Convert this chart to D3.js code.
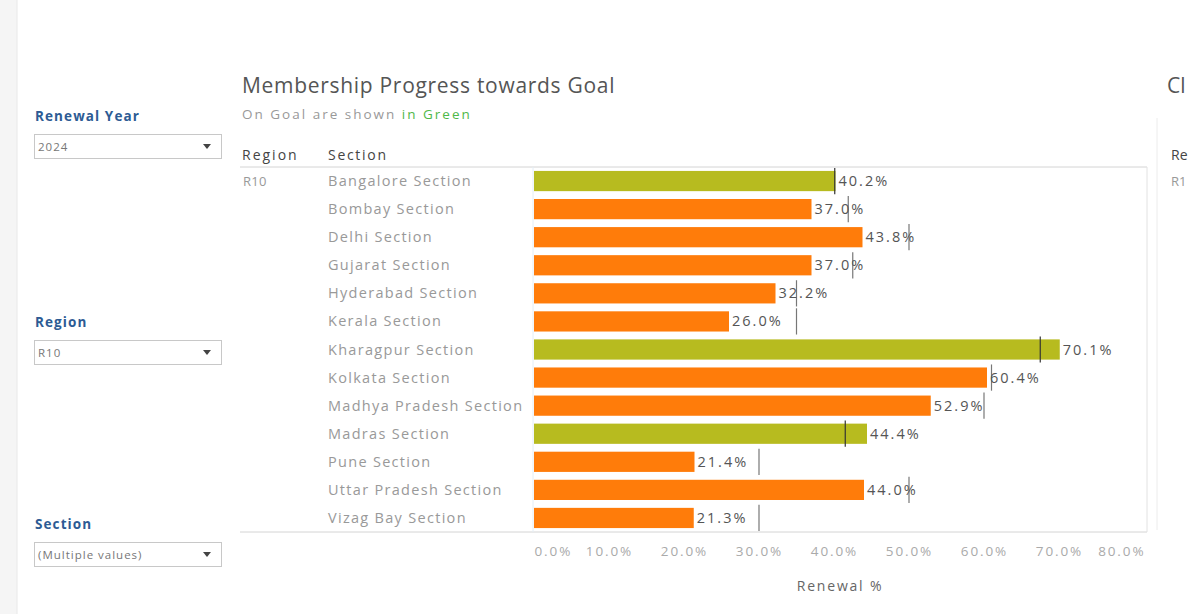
<!DOCTYPE html>
<html lang="en">
<head>
  <meta charset="UTF-8">
  <title>Membership Progress towards Goal</title>
  <script src="https://d3js.org/d3.v7.min.js"></script>
  <style>
    body { margin: 0; background: #fff; font-family: "Open Sans", sans-serif; }
  </style>
</head>
<body>
  <div id="viz"></div>

  <script>
    // Data
    const sections = ["Bangalore Section", "Bombay Section", "Delhi Section", "Gujarat Section",
      "Hyderabad Section", "Kerala Section", "Kharagpur Section", "Kolkata Section",
      "Madhya Pradesh Section", "Madras Section", "Pune Section", "Uttar Pradesh Section",
      "Vizag Bay Section"];
    const renewal = [40.2, 37.0, 43.8, 37.0, 32.2, 26.0, 70.1, 60.4, 52.9, 44.4, 21.4, 44.0, 21.3];
    const goal = [40.1, 41.9, 50.0, 42.5, 35.0, 35.0, 67.5, 61.0, 60.0, 41.5, 30.0, 50.0, 30.0];
    const xTicks = [0, 10, 20, 30, 40, 50, 60, 70, 80];
    const region = "R10";

    const W = 1193, H = 614;
    const svg = d3.select('#viz').append('svg')
      .attr('width', W).attr('height', H);

    // plot area
    const x0 = 534, x1 = 1134, plotTop = 167, plotBottom = 532;
    const x = d3.scaleLinear().domain([0, 80]).range([x0, x1]);
    const y = d3.scaleBand().domain(sections).range([plotTop, plotBottom]).paddingInner(0.28).paddingOuter(0.14);

    // left page strip
    svg.append('rect').attr('x', 0).attr('y', 0).attr('width', 17).attr('height', H).attr('fill', '#f5f5f5');
    svg.append('line').attr('x1', 17).attr('x2', 17).attr('y1', 0).attr('y2', H).attr('stroke', '#e8e8e8');

    // filter panels
    const filters = [
      { title: "Renewal Year", value: "2024", y: 116 },
      { title: "Region", value: "R10", y: 322 },
      { title: "Section", value: "(Multiple values)", y: 524 }
    ];
    filters.forEach(f => {
      svg.append('text').attr('x', 35).attr('y', f.y + 5)
        .attr('font-size', 13.5).attr('font-weight', 'bold').attr('fill', '#2d5b94')
        .attr('letter-spacing', 1.1).text(f.title);
      svg.append('rect').attr('x', 34.5).attr('y', f.y + 18.5).attr('width', 187).attr('height', 24)
        .attr('fill', '#fff').attr('stroke', '#c8c8c8');
      svg.append('text').attr('x', 38).attr('y', f.y + 35)
        .attr('font-size', 11.5).attr('fill', '#777').attr('letter-spacing', 1).text(f.value);
      svg.append('path')
        .attr('d', `M${203},${f.y + 28} l8,0 l-4,5 z`).attr('fill', '#444');
    });

    // title
    svg.append('text').attr('x', 242).attr('y', 93)
      .attr('font-size', 21).attr('fill', '#555').attr('letter-spacing', 0.7)
      .text("Membership Progress towards Goal");
    const sub = svg.append('text').attr('x', 242).attr('y', 119)
      .attr('font-size', 13.5).attr('fill', '#999').attr('letter-spacing', 2);
    sub.append('tspan').text("On Goal are shown ");
    sub.append('tspan').attr('fill', '#4fb848').text("in Green");

    // headers
    svg.append('text').attr('x', 242).attr('y', 160).attr('font-size', 14).attr('fill', '#444')
      .attr('letter-spacing', 2).text("Region");
    svg.append('text').attr('x', 328).attr('y', 160).attr('font-size', 14).attr('fill', '#444')
      .attr('letter-spacing', 1.7).text("Section");

    // frame lines
    svg.append('line').attr('x1', 240).attr('x2', 1147).attr('y1', plotTop).attr('y2', plotTop).attr('stroke', '#d4d4d4');
    svg.append('line').attr('x1', 240).attr('x2', 1147).attr('y1', plotBottom).attr('y2', plotBottom).attr('stroke', '#d4d4d4');
    svg.append('line').attr('x1', 1147).attr('x2', 1147).attr('y1', plotTop).attr('y2', plotBottom).attr('stroke', '#e2e2e2');
    svg.append('line').attr('x1', x0 - 1).attr('x2', x0 - 1).attr('y1', plotTop).attr('y2', plotBottom).attr('stroke', '#e4eef6');

    // row labels
    svg.append('text').attr('x', 243).attr('y', y(sections[0]) + y.bandwidth() / 2 + 5)
      .attr('font-size', 13).attr('fill', '#999').attr('letter-spacing', 0.3).text(region);
    svg.selectAll('.sec').data(sections).enter().append('text')
      .attr('class', 'sec')
      .attr('x', 328).attr('y', d => y(d) + y.bandwidth() / 2 + 5)
      .attr('font-size', 14.5).attr('fill', '#999').attr('letter-spacing', 1.3).text(d => d);

    const rows = sections.map((s, i) => ({ s, v: renewal[i], g: goal[i] }));

    // bars
    svg.selectAll('.bar').data(rows).enter().append('rect')
      .attr('class', 'bar')
      .attr('x', x(0)).attr('y', d => y(d.s))
      .attr('width', d => x(d.v) - x(0)).attr('height', y.bandwidth())
      .attr('fill', d => d.v >= d.g ? '#b7bb1f' : '#ff7c0a');

    // goal markers
    svg.selectAll('.goal').data(rows).enter().append('line')
      .attr('class', 'goal')
      .attr('x1', d => x(d.g)).attr('x2', d => x(d.g))
      .attr('y1', d => y(d.s) - 3).attr('y2', d => y(d.s) + y.bandwidth() + 3)
      .attr('stroke', d => d.v >= d.g ? '#333' : '#777').attr('stroke-width', 1.2);

    // value labels
    svg.selectAll('.val').data(rows).enter().append('text')
      .attr('class', 'val')
      .attr('x', d => x(d.v) + 3).attr('y', d => y(d.s) + y.bandwidth() / 2 + 5)
      .attr('font-size', 14.5).attr('fill', '#555').attr('letter-spacing', 2)
      .text(d => d.v.toFixed(1) + '%');

    // x axis
    const axis = svg.append('g').attr('transform', `translate(0, ${plotBottom})`)
      .call(d3.axisBottom(x).tickValues(xTicks).tickSize(0).tickPadding(14)
        .tickFormat(d => d.toFixed(1) + '%'));
    axis.select('.domain').remove();
    axis.selectAll('text').attr('font-size', 13.5).attr('fill', '#aaa')
      .attr('font-family', '"Open Sans", sans-serif').attr('letter-spacing', 1.9)
      .attr('text-anchor', (d, i) => i === 0 ? 'start' : (i === xTicks.length - 1 ? 'end' : 'middle'))
      .attr('dx', (d, i) => i === xTicks.length - 1 ? 11 : 0);

    svg.append('text').attr('x', 840).attr('y', 591).attr('text-anchor', 'middle')
      .attr('font-size', 14).attr('fill', '#666').attr('letter-spacing', 1.8).text("Renewal %");

    // cut-off neighbour sheet on the right
    svg.append('line').attr('x1', 1157).attr('x2', 1157).attr('y1', 118).attr('y2', 530).attr('stroke', '#ececec');
    svg.append('text').attr('x', 1167).attr('y', 93).attr('font-size', 21).attr('fill', '#555').text("Cl");
    svg.append('text').attr('x', 1171).attr('y', 160).attr('font-size', 14).attr('fill', '#444').text("Re");
    svg.append('text').attr('x', 1171).attr('y', 186).attr('font-size', 13).attr('fill', '#999').text("R1");
  </script>
</body>
</html>
